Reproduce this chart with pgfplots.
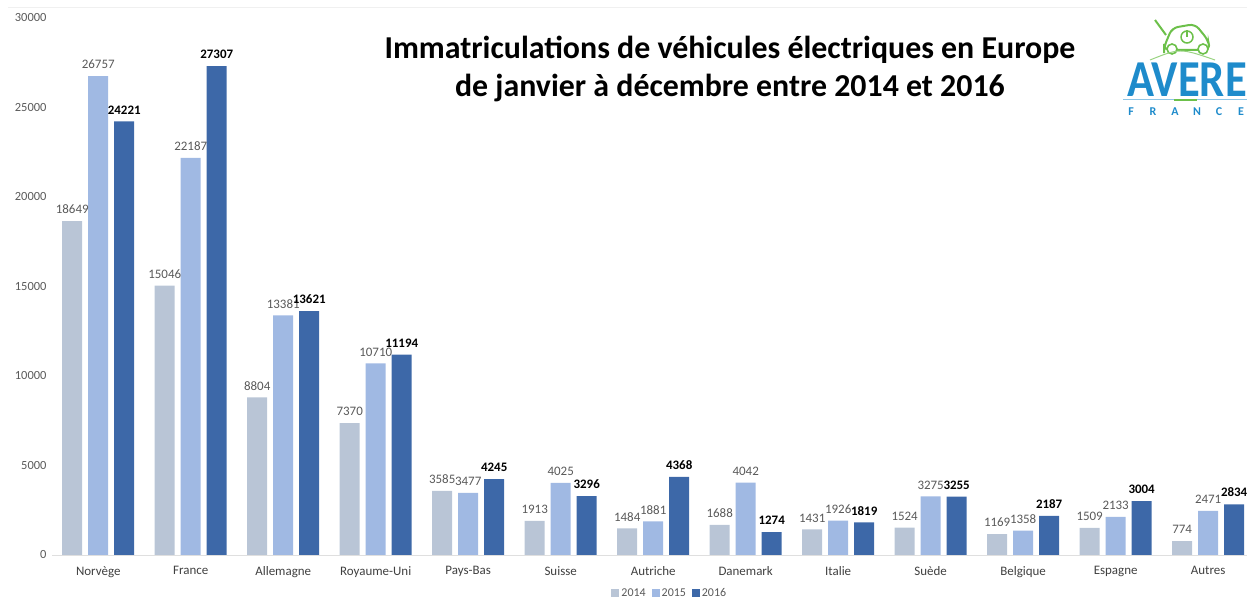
\documentclass[border=0pt]{standalone}
\usepackage{pgfplots}
\pgfplotsset{compat=1.18}
\usepackage{pgfplotstable}
\usepackage{fontspec}
\setmainfont{Carlito}
\definecolor{c14}{HTML}{B9C5D6}
\definecolor{c15}{HTML}{A0B9E3}
\definecolor{c16}{HTML}{3D68A8}
\definecolor{lbl}{HTML}{595959}
\definecolor{avblue}{HTML}{1E8BCB}
\definecolor{avgreen}{HTML}{6CC04A}
\pgfplotstableread{
x y14 y15 y16
0 18649 26757 24221
1 15046 22187 27307
2 8804 13381 13621
3 7370 10710 11194
4 3585 3477 4245
5 1913 4025 3296
6 1484 1881 4368
7 1688 4042 1274
8 1431 1926 1819
9 1524 3275 3255
10 1169 1358 2187
11 1509 2133 3004
12 774 2471 2834
}\datatable
\begin{document}
\begin{tikzpicture}
\useasboundingbox (0,0) rectangle (1247bp,600bp);
\draw[color=gray!12, line width=0.8bp] (8bp,593bp) -- (1247bp,593bp);
\begin{axis}[
  at={(52bp,45bp)}, anchor=south west,
  scale only axis, width=1195bp, height=537bp,
  xmin=-0.5, xmax=12.42, ymin=0, ymax=30000,
  enlargelimits=false,
  scaled y ticks=false,
  axis lines*=left,
  x axis line style={draw=gray!25, line width=0.8bp},
  y axis line style={draw=none},
  major tick length=0pt,
  ytick={0,5000,...,30000},
  xtick={0,...,12},
  xticklabels={Norvège,France,Allemagne,Royaume-Uni,Pays-Bas,Suisse,Autriche,Danemark,Italie,Suède,Belgique,Espagne,Autres},
  /pgf/number format/assume math mode=true,
  /pgf/number format/1000 sep={},
  y tick label style={font=\fontsize{12.5}{14}\selectfont, text=lbl, xshift=-2bp},
  x tick label style={font=\fontsize{13}{15}\selectfont, text=black!75, yshift=-8bp},
  ybar, bar width=20bp,
  nodes near coords,
  every node near coord/.append style={font=\fontsize{13}{15}\selectfont, text=lbl, inner sep=2bp, yshift=5bp},
  legend style={at={(0.517,-0.071)}, anchor=center, draw=none, legend columns=3,
    font=\fontsize{12}{14}\selectfont, text=lbl,
    /tikz/every even column/.append style={column sep=4bp}},
  legend image code/.code={\fill[#1] (0bp,-4bp) rectangle (8bp,4bp);},
]
\addplot[fill=c14, draw=none, bar shift=-26bp] table[x=x,y=y14]{\datatable};
\addplot[fill=c15, draw=none, bar shift=0bp] table[x=x,y=y15]{\datatable};
\addplot[fill=c16, draw=none, bar shift=26bp,
  every node near coord/.append style={font=\fontsize{13}{15}\selectfont\bfseries, text=black}] table[x=x,y=y16]{\datatable};
\legend{2014,2015,2016}
\end{axis}
\node[font=\fontsize{32}{38}\selectfont\bfseries, align=center, text=black] at (730bp,531bp)
  {Immatriculations de véhicules électriques en Europe\\de janvier à décembre entre 2014 et 2016};
% logo
\node[font=\fontsize{52}{52}\selectfont\bfseries, text=avblue, anchor=base west, inner sep=0pt, xscale=0.86] at (1127bp,503bp) {AVERE};
\draw[color=avblue!50, line width=1bp] (1123bp,500bp) -- (1247bp,500bp);
\draw[color=avgreen, line width=2.2bp] (1174bp,500bp) -- (1197bp,500bp);
\foreach \l/\xx in {F/1131,R/1153,A/1175,N/1197,C/1219,E/1241}
  \node[font=\fontsize{12}{12}\selectfont\bfseries, text=avblue, inner sep=0pt] at (\xx bp,488bp) {\l};
\draw[avgreen, line width=2bp, rounded corners=6bp] (1164bp,553bp) -- (1172bp,572bp) -- (1195bp,576bp) -- (1208bp,560bp) -- (1210bp,550bp) -- (1164bp,550bp) -- cycle;
\draw[avgreen, line width=2bp] (1155bp,580bp) -- (1166bp,565bp);
\draw[avgreen, line width=1.6bp, fill=white] (1172bp,551bp) circle (5bp);
\draw[avgreen, line width=1.6bp, fill=white] (1203bp,551bp) circle (5bp);
\draw[avgreen, line width=1.5bp] (1187bp,563bp) circle (6bp);
\draw[avgreen, line width=1.5bp] (1187bp,563bp) -- (1187bp,570bp);
\draw[avgreen!70, line width=1bp] (1150bp,540bp) .. controls (1180bp,552bp) .. (1215bp,540bp);
\end{tikzpicture}
\end{document}
